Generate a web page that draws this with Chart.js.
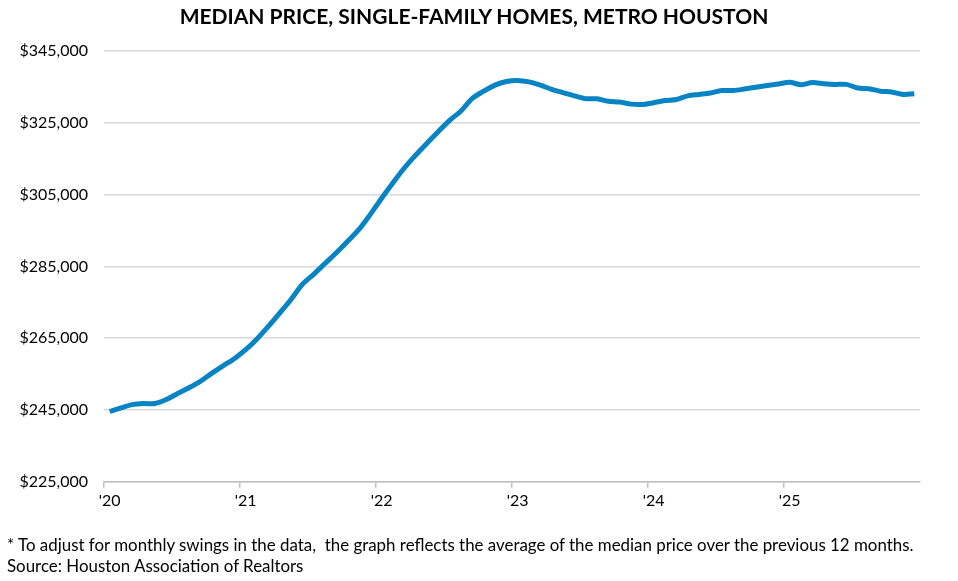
<!DOCTYPE html>
<html>
<head>
  <title>Median Price, Single-Family Homes, Metro Houston</title>
  <script src="https://cdn.jsdelivr.net/npm/chart.js"></script>
  <style>
    body { margin: 0; background: #fff; }
    #wrap { position: relative; width: 958px; height: 581px; }
    #myChart { position: absolute; left: 0; top: 0; }
    #title {
      position: absolute; left: 0; width: 948px; top: 3px; text-align: center;
      font: bold 21px Lato, "Open Sans", sans-serif; color: #000; white-space: nowrap;
    }
    #note {
      position: absolute; left: 7px; top: 534px; line-height: 21px; white-space: nowrap;
      font: 16.9px Lato, "Open Sans", sans-serif; color: #000;
    }
  </style>
</head>
<body>
  <div id="wrap">
    <canvas id="myChart" width="958" height="581"></canvas>
    <div id="title">MEDIAN PRICE, SINGLE-FAMILY HOMES, METRO HOUSTON</div>
    <div id="note">* To adjust for monthly swings in the data,&nbsp; the graph reflects the average of the median price over the previous 12 months.<br>Source: Houston Association of Realtors</div>
  </div>

  <script>
    // Years shown on the x axis, one category per month
    const years = ['2020', '2021', '2022', '2023', '2024', '2025'];
    const yearLabels = ["'20", "'21", "'22", "'23", "'24", "'25"];
    const monthNames = ['Jan', 'Feb', 'Mar', 'Apr', 'May', 'Jun', 'Jul', 'Aug', 'Sep', 'Oct', 'Nov', 'Dec'];

    // 12-month average of median price
    const medianPrice = [
      244600, 245600, 246500, 246800, 246800, 247900, 249600, 251200, 253000, 255200, 257300, 259300,
      261800, 264800, 268300, 272000, 275800, 280000, 282800, 285800, 288800, 292000, 295300, 299500,
      304000, 308300, 312400, 316000, 319300, 322600, 325700, 328300, 331800, 333800, 335500, 336500,
      336800, 336400, 335500, 334300, 333400, 332500, 331700, 331700, 331000, 330800, 330200, 330100,
      330600, 331200, 331500, 332500, 332900, 333300, 334000, 334000, 334400, 334900, 335400, 335800,
      336300, 335600, 336200, 335900, 335700, 335700, 334700, 334500, 333800, 333600, 332900, 333100
    ];

    const yTicks = [225000, 245000, 265000, 285000, 305000, 325000, 345000];

    const labels = [];
    years.forEach(y => monthNames.forEach(m => labels.push(m + ' ' + y)));

    const font = "Lato, 'Open Sans', sans-serif";

    var ctx = document.getElementById('myChart').getContext('2d');
    const myChart = new Chart(ctx, {
      type: 'line',
      data: {
        labels: labels,
        datasets: [{
          label: 'Median price',
          data: medianPrice,
          borderColor: '#0884c4',
          borderWidth: 5,
          pointRadius: 0,
          tension: 0.3,
          fill: false
        }]
      },
      options: {
        responsive: false,
        animation: false,
        layout: { padding: { left: 7, right: 38, top: 51, bottom: 68 } },
        plugins: {
          legend: { display: false },
          tooltip: { enabled: false }
        },
        scales: {
          x: {
            offset: true,
            grid: {
              offset: true,
              drawOnChartArea: false,
              drawTicks: true,
              tickLength: 6,
              lineWidth: 1.5,
              color: c => (c.index % 12 === 0 ? '#bfbfbf' : 'rgba(0,0,0,0)')
            },
            border: { display: true, color: '#bfbfbf', width: 1.5 },
            ticks: {
              autoSkip: false,
              maxRotation: 0,
              padding: 3,
              color: '#000',
              font: { family: font, size: 16 },
              callback: (v, i) => (i % 12 === 0 ? yearLabels[i / 12] : '')
            }
          },
          y: {
            min: 225000,
            max: 345000,
            afterFit: s => { s.width = 97; },
            afterBuildTicks: s => { s.ticks = yTicks.map(v => ({ value: v })); },
            grid: { color: '#d9d9d9', lineWidth: 1.5, drawTicks: false },
            border: { display: false },
            ticks: {
              padding: 16,
              color: '#000',
              font: { family: font, size: 16 },
              callback: v => '$' + v.toLocaleString('en-US')
            }
          }
        }
      }
    });
  </script>
</body>
</html>
